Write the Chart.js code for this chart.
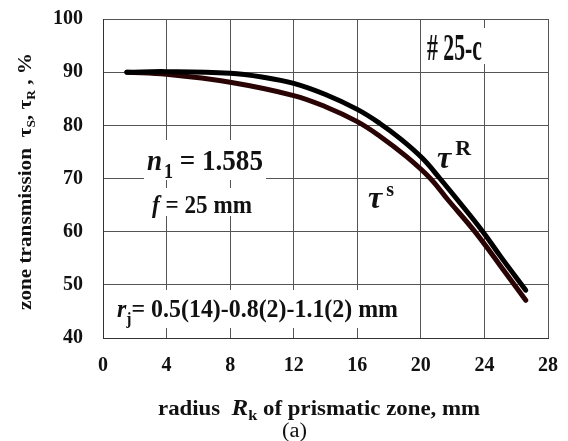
<!DOCTYPE html>
<html lang="en">
<head>
    <meta charset="UTF-8">
    <title>Zone transmission vs radius</title>
    <script src="https://cdn.jsdelivr.net/npm/chart.js"></script>
    <style>
        body {
            margin: 0;
            padding: 0;
            background: #ffffff;
        }
        .chart-box {
            width: 568px;
            height: 441px;
            position: relative;
        }
    </style>
</head>
<body>
    <div class="chart-box">
        <canvas id="zoneChart"></canvas>
    </div>

    <script>
        // data
        const radiusR = [1.5, 4, 8, 10, 12, 14, 16, 17.4, 18.7, 20.1, 21.2, 22.3, 23.9, 25, 26.6];
        const transR = [90, 90.1, 89.8, 89.1, 87.9, 85.8, 83.0, 80.4, 77.5, 73.8, 70, 66, 60, 55.4, 49.0];
        const radiusS = [1.5, 4, 8, 12, 14, 16, 17.4, 19.1, 20.6, 21.7, 23.4, 25, 26.6];
        const transS = [90, 89.6, 88.1, 85.6, 83.5, 80.7, 78.0, 74.1, 70, 66, 60, 53.6, 47.1];
        const xTicks = [0, 4, 8, 12, 16, 20, 24, 28];
        const yTicks = [40, 50, 60, 70, 80, 90, 100];

        const SERIF = '"Liberation Serif", "Times New Roman", serif';

        function toPoints(xs, ys) {
            return xs.map((x, i) => ({ x: x, y: ys[i] }));
        }

        // draws a run of text pieces (sub/superscripts) starting at x, baseline y
        function drawRich(ctx, segs, x, y, width) {
            let total = 0;
            segs.forEach(s => {
                ctx.font = s.font;
                total += ctx.measureText(s.text).width + (s.gap || 0);
            });
            const sx = width ? width / total : 1;
            ctx.save();
            ctx.translate(x, y);
            ctx.scale(sx, 1);
            let cx = 0;
            segs.forEach(s => {
                ctx.font = s.font;
                ctx.fillText(s.text, cx, s.dy || 0);
                cx += ctx.measureText(s.text).width + (s.gap || 0);
            });
            ctx.restore();
        }

        function whiteBox(ctx, x, y, w, h) {
            ctx.fillStyle = '#ffffff';
            ctx.fillRect(x, y, w, h);
        }

        const notesPlugin = {
            id: 'notes',
            afterDatasetsDraw(chart) {
                const ctx = chart.ctx;
                ctx.save();
                ctx.textBaseline = 'alphabetic';
                ctx.textAlign = 'left';

                // white backgrounds behind the notes inside the plot
                whiteBox(ctx, 144, 140, 122, 40);
                whiteBox(ctx, 150, 188, 106, 28);
                whiteBox(ctx, 112, 290, 292, 38);
                whiteBox(ctx, 424, 28, 62, 36);

                ctx.fillStyle = '#111';

                drawRich(ctx, [{ text: '# 25-c', font: 'bold 38px ' + SERIF }], 427, 60, 55);

                drawRich(ctx, [
                    { text: 'n', font: 'italic bold 30px ' + SERIF, gap: 2 },
                    { text: '1', font: 'bold 20px ' + SERIF, dy: 8 },
                    { text: ' = 1.585', font: 'bold 30px ' + SERIF }
                ], 147, 170, 116);

                drawRich(ctx, [
                    { text: 'f', font: 'italic bold 26px ' + SERIF },
                    { text: ' = 25 mm', font: 'bold 26px ' + SERIF }
                ], 152, 213, 100);

                drawRich(ctx, [
                    { text: 'r', font: 'italic bold 26px ' + SERIF },
                    { text: 'j', font: 'bold 17px ' + SERIF, dy: 7 },
                    { text: '= 0.5(14)-0.8(2)-1.1(2) mm', font: 'bold 26px ' + SERIF }
                ], 117, 317, 281);

                drawRich(ctx, [
                    { text: '\u03c4', font: 'italic bold 32px ' + SERIF, gap: 4 },
                    { text: 's', font: 'bold 20px ' + SERIF, dy: -12 }
                ], 368, 208);

                drawRich(ctx, [
                    { text: '\u03c4', font: 'italic bold 32px ' + SERIF, gap: 4 },
                    { text: 'R', font: 'bold 22px ' + SERIF, dy: -13 }
                ], 437, 168);

                // x axis title
                drawRich(ctx, [
                    { text: 'radius  ', font: 'bold 21px ' + SERIF },
                    { text: 'R', font: 'italic bold 23px ' + SERIF },
                    { text: 'k', font: 'bold 15px ' + SERIF, dy: 5 },
                    { text: ' of prismatic zone, mm', font: 'bold 21px ' + SERIF }
                ], 158, 415, 322);

                // (a)
                drawRich(ctx, [{ text: '(a)', font: '20px ' + SERIF }], 282, 437, 25);

                // y axis title, rotated
                ctx.save();
                ctx.translate(31, 310);
                ctx.rotate(-Math.PI / 2);
                drawRich(ctx, [
                    { text: 'zone transmission  \u03c4', font: 'bold 19px ' + SERIF },
                    { text: 'S', font: 'bold 12px ' + SERIF, dy: 4 },
                    { text: ', \u03c4', font: 'bold 19px ' + SERIF },
                    { text: 'R', font: 'bold 12px ' + SERIF, dy: 4 },
                    { text: ' , %', font: 'bold 19px ' + SERIF }
                ], 0, 0, 257);
                ctx.restore();

                ctx.restore();
            }
        };

        const ctx = document.getElementById('zoneChart').getContext('2d');

        const zoneChart = new Chart(ctx, {
            type: 'scatter',
            data: {
                datasets: [{
                    label: 'tau R',
                    data: toPoints(radiusR, transR),
                    showLine: true,
                    borderColor: '#000000',
                    borderWidth: 5,
                    pointRadius: 0,
                    tension: 0.4,
                    borderCapStyle: 'round'
                }, {
                    label: 'tau S',
                    data: toPoints(radiusS, transS),
                    showLine: true,
                    borderColor: '#2a0404',
                    borderWidth: 5,
                    pointRadius: 0,
                    tension: 0.4,
                    borderCapStyle: 'round'
                }]
            },
            options: {
                responsive: true,
                maintainAspectRatio: false,
                animation: false,
                layout: {
                    padding: { top: 19, right: 20, left: 0, bottom: 0 }
                },
                plugins: {
                    legend: { display: false },
                    tooltip: { enabled: false }
                },
                scales: {
                    x: {
                        type: 'linear',
                        min: xTicks[0],
                        max: xTicks[xTicks.length - 1],
                        afterFit: (scale) => {
                            scale.height = 103;
                            scale.paddingLeft = 0;
                            scale.paddingRight = 0;
                        },
                        ticks: {
                            stepSize: xTicks[1] - xTicks[0],
                            color: '#111',
                            padding: 16,
                            font: { family: SERIF, size: 20, weight: 'bold' }
                        },
                        grid: { color: '#555', lineWidth: 1, drawTicks: false },
                        border: { color: '#333', width: 1 }
                    },
                    y: {
                        type: 'linear',
                        min: yTicks[0],
                        max: yTicks[yTicks.length - 1],
                        afterFit: (scale) => {
                            scale.width = 103;
                            scale.paddingTop = 0;
                            scale.paddingBottom = 0;
                        },
                        ticks: {
                            stepSize: yTicks[1] - yTicks[0],
                            color: '#111',
                            padding: 20,
                            font: { family: SERIF, size: 20, weight: 'bold' }
                        },
                        grid: { color: '#555', lineWidth: 1, drawTicks: false },
                        border: { color: '#333', width: 1 }
                    }
                }
            },
            plugins: [notesPlugin]
        });
    </script>
</body>
</html>
